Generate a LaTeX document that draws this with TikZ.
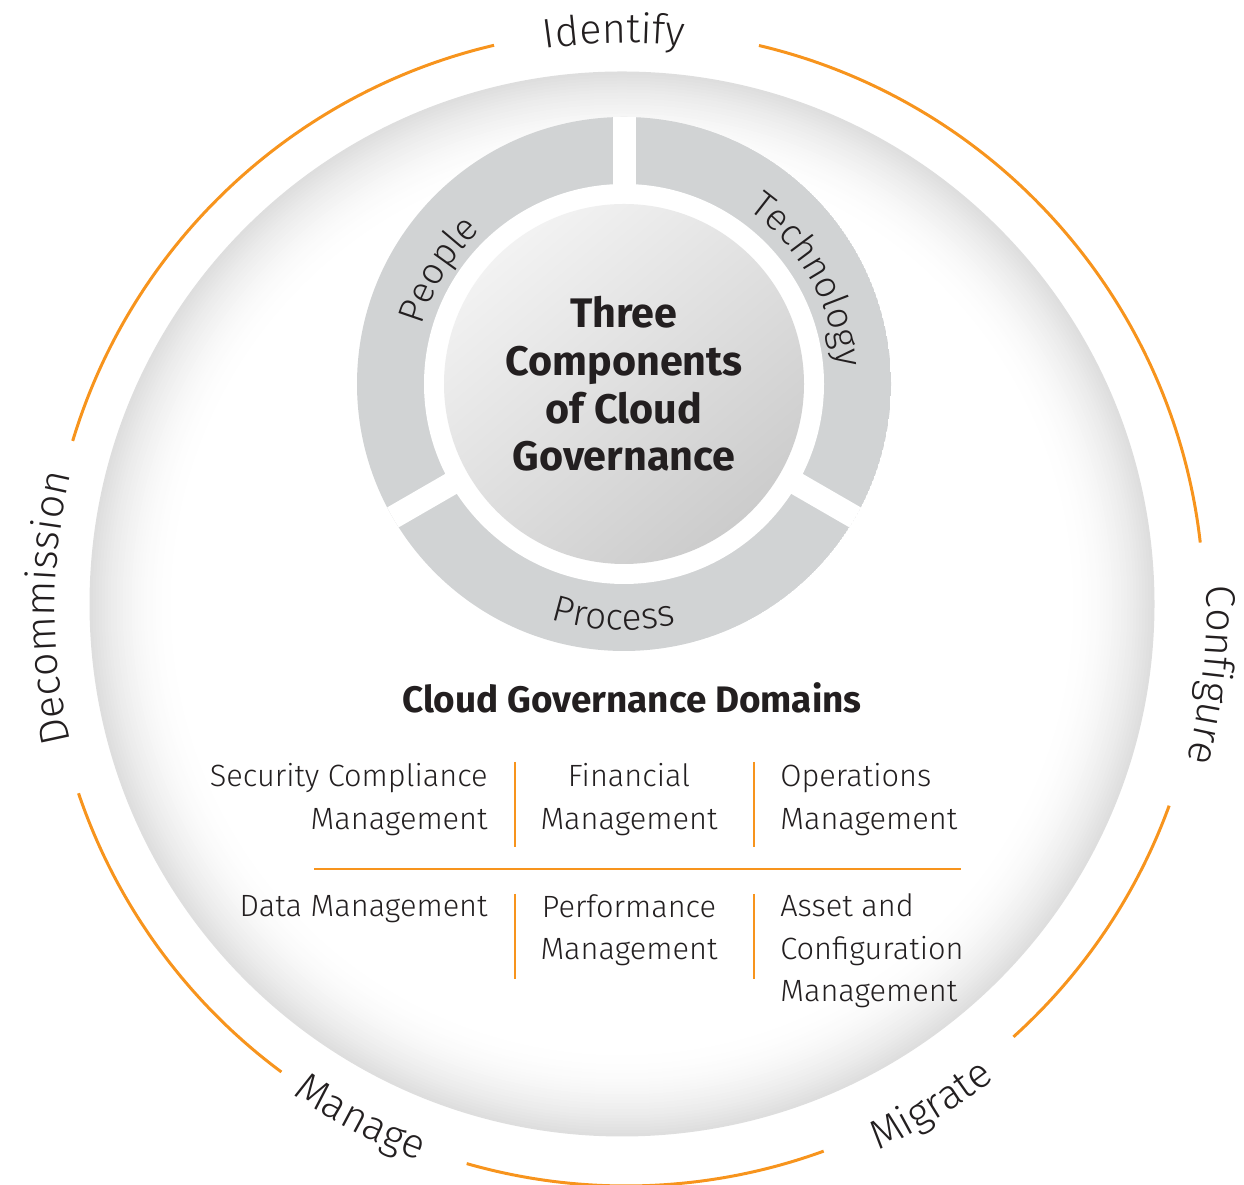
\documentclass[tikz,border=0pt]{standalone}
\usepackage{fontspec}
\setmainfont{Fira Sans}
\newfontfamily\lightfont{Fira Sans Light}
\usetikzlibrary{decorations.text}

\definecolor{cycleorange}{RGB}{247,148,29}
\definecolor{ringgray}{RGB}{209,211,212}
\definecolor{inkgray}{RGB}{35,31,32}

\newcommand{\cyclefont}{\lightfont\fontsize{23.5}{23.5}\selectfont}
\newcommand{\ringfont}{\lightfont\fontsize{21}{21}\selectfont}

\begin{document}
\begin{tikzpicture}[x=0.02cm, y=0.02cm,
  cyclearc/.style={cycleorange, line width=1.7pt},
  rule/.style={cycleorange, line width=1.6pt},
  cycletext/.style={decorate, decoration={text along path, text align=center, text color=inkgray, text={|\cyclefont|#1}}},
  ringtext/.style={decorate, decoration={text along path, text align=center, text color=inkgray, text={|\ringfont|#1}}},
  domsty/.style={font=\lightfont\fontsize{17.5}{24.2}\selectfont, text=inkgray, inner sep=0pt},
  headsty/.style={font=\bfseries\fontsize{21}{24}\selectfont, text=inkgray, inner sep=0pt},
  coresty/.style={font=\bfseries\fontsize{23.5}{27.2}\selectfont, text=inkgray, align=center, inner sep=0pt}]

\useasboundingbox (0,0) rectangle (1244,1185);

\coordinate (bigc) at (622,581);
\coordinate (orc) at (626,577);
\coordinate (ringc) at (624,801);

% shaded backdrop, grey rim fading to white
\foreach \k in {0,...,30}{
  \pgfmathsetmacro\rr{532.5-3*\k}
  \pgfmathsetmacro\gg{13*(1-\k/30)^2}
  \fill[black!\gg] (bigc) circle[radius=\rr];
}

% lifecycle ring
\foreach \a/\b in {6.5/76.7, 103.2/163.2, 198.7/233.4, 254/290, 312.1/340}
  \draw[cyclearc] ([shift={(\a:578)}]orc) arc[start angle=\a, end angle=\b, radius=578];

\path[cycletext=Identify] ([shift={(121.2:565)}]orc) arc[start angle=121.2, end angle=61.2, radius=565];
\path[cycletext=Configure] ([shift={(23.5:581)}]orc) arc[start angle=23.5, end angle=-36.5, radius=581];
\path[cycletext=Decommission] ([shift={(210:571)}]orc) arc[start angle=210, end angle=150, radius=571];
\path[cycletext=Manage] ([shift={(212.5:590)}]orc) arc[start angle=212.5, end angle=272.5, radius=590];
\path[cycletext=Migrate] ([shift={(271.5:598)}]orc) arc[start angle=271.5, end angle=331.5, radius=598];

% three components
\begin{scope}
  \clip (ringc) circle[radius=267];
  \fill[ringgray] (ringc) circle[radius=267];
  \fill[white] (ringc) circle[radius=200];
  \foreach \a in {90,210,330}
    \draw[white, line width=0.46cm] (ringc) -- ++(\a:300);
\end{scope}

\path[ringtext=People] ([shift={(178.5:210)}]ringc) arc[start angle=178.5, end angle=118.5, radius=210];
\path[ringtext=Technology] ([shift={(59.5:214)}]ringc) arc[start angle=59.5, end angle=-0.5, radius=214];
\path[ringtext=Process] ([shift={(237.5:246)}]ringc) arc[start angle=237.5, end angle=297.5, radius=246];

\shade[shading=axis, top color=black!5, bottom color=black!20, shading angle=40] (ringc) circle[radius=180];
\node[coresty] (core) at (ringc) {Three\\Components\\of Cloud\\Governance};

% domains
\node[headsty, anchor=base] (domhead) at (632,472) {Cloud Governance Domains};

\node[domsty, align=right, anchor=base east] (secm) at (488,355.7) {Security Compliance\\Management};
\node[domsty, align=center, anchor=base] (finm) at (629,355.7) {Financial\\Management};
\node[domsty, align=left, anchor=base west] (opsm) at (780,355.7) {Operations\\Management};
\node[domsty, align=right, anchor=base east] (datm) at (488,268.3) {Data Management};
\node[domsty, align=center, anchor=base] (perm) at (629,225) {Performance\\Management};
\node[domsty, align=left, anchor=base west] (asm) at (780,183.3) {Asset and\\Configuration\\Management};

\draw[rule] (515,423) -- (515,338);
\draw[rule] (754,423) -- (754,338);
\draw[rule] (314,316) -- (961,316);
\draw[rule] (515,291) -- (515,206);
\draw[rule] (754,291) -- (754,206);

\end{tikzpicture}
\end{document}
